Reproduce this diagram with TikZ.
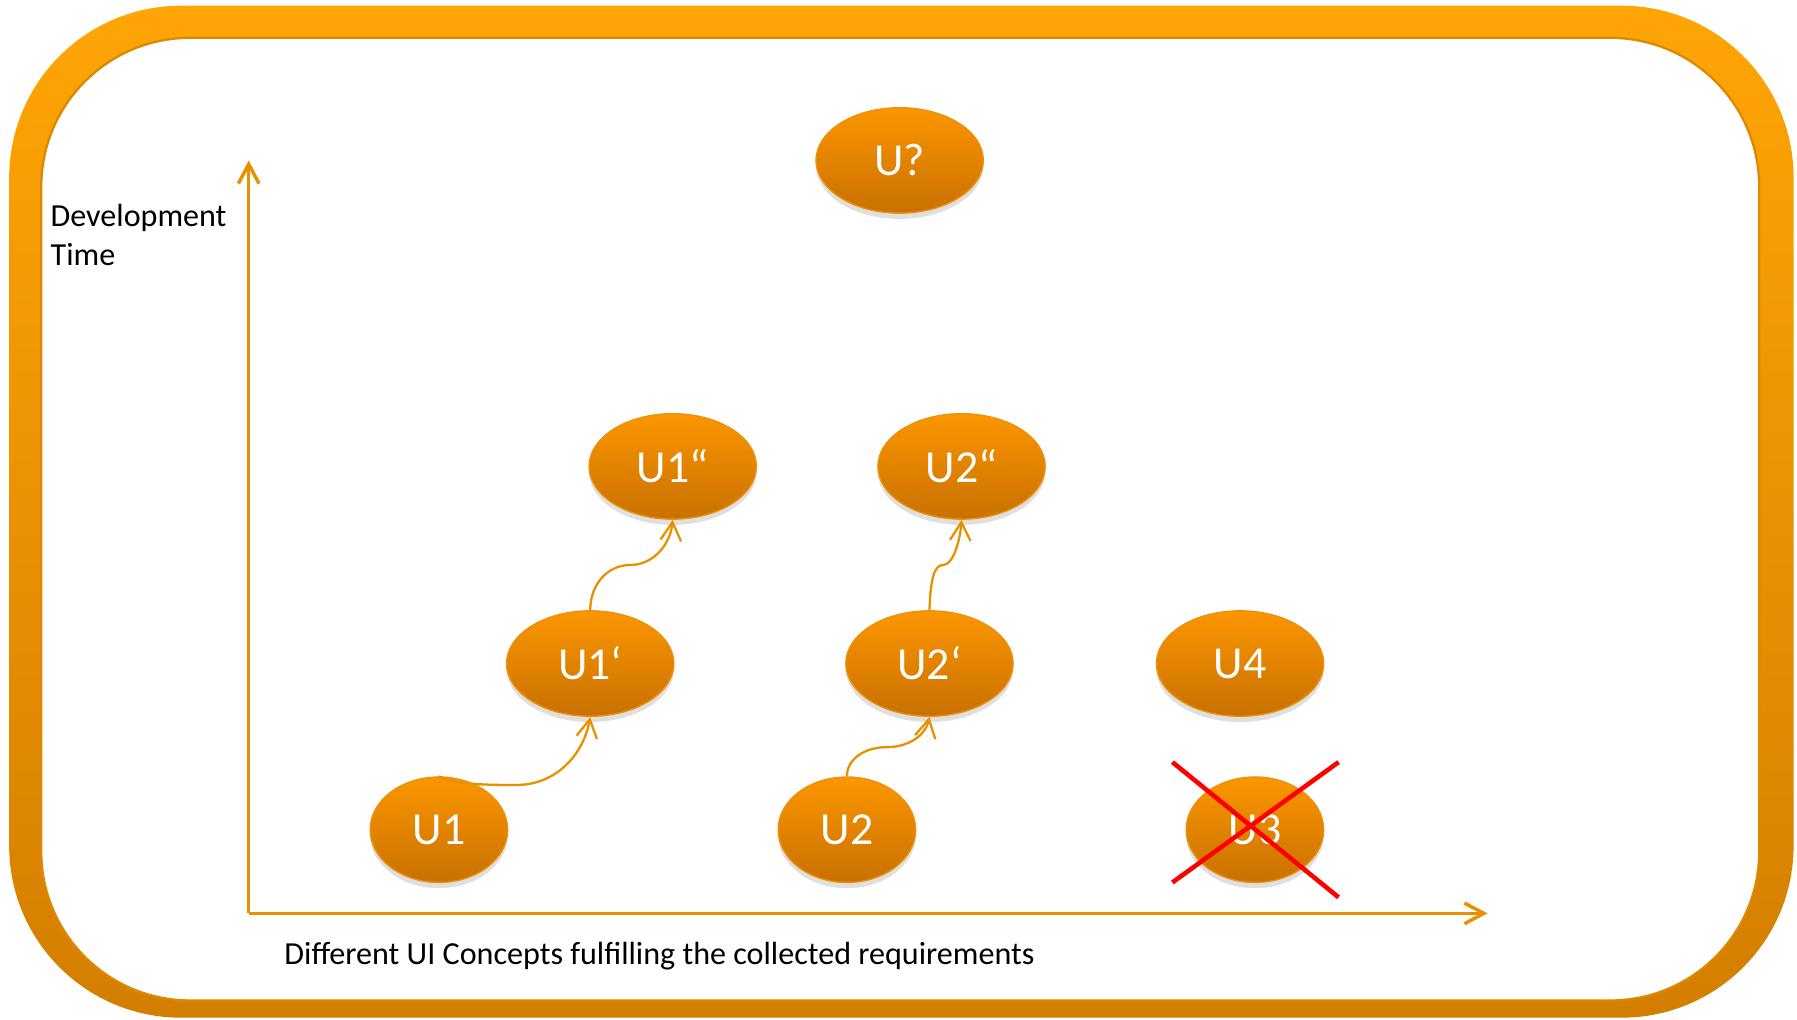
\documentclass[tikz,border=0pt]{standalone}
\usepackage{fontspec}
\setmainfont{Carlito}
\usetikzlibrary{shapes.geometric,arrows.meta,shadows}
\definecolor{frameTop}{RGB}{255,165,5}
\definecolor{frameBot}{RGB}{212,126,0}
\definecolor{frameEdge}{RGB}{222,136,0}
\definecolor{axiscol}{RGB}{232,145,0}
\definecolor{ellTop}{RGB}{252,150,0}
\definecolor{ellBot}{RGB}{200,112,0}
\definecolor{ellEdge}{RGB}{236,145,10}
\definecolor{crossred}{RGB}{255,0,0}
\begin{document}
\begin{tikzpicture}[x=1pt,y=1pt,
  concept/.style={ellipse, inner sep=0pt, minimum width=146pt, minimum height=92pt,
    top color=ellTop, bottom color=ellBot, draw=ellEdge, line width=1.2pt,
    text=white, font=\fontsize{40}{48}\selectfont,
    drop shadow={opacity=0.25, shadow xshift=0pt, shadow yshift=-5pt}},
  smallconcept/.style={concept, minimum width=120pt},
  axisline/.style={draw=axiscol, line width=3pt, -{Straight Barb[length=17pt,width=18pt]}},
  conn/.style={draw=axiscol, line width=2pt, -{Straight Barb[length=16pt,width=18pt]}},
  axislabel/.style={font=\fontsize{28}{34}\selectfont, inner sep=0pt},
  crossline/.style={draw=crossred, line width=4pt},
]
\useasboundingbox (0,0) rectangle (1568,890);
% frame
\shade[top color=frameTop, bottom color=frameBot, even odd rule]
  [rounded corners=150pt] (8,2) rectangle (1565,885)
  [rounded corners=130pt] (36,17) rectangle (1535,857);
\draw[frameEdge, line width=2pt, rounded corners=130pt] (36,17) rectangle (1535,857);

% axes
\coordinate (origin) at (217,93);
\coordinate (ytip) at (217,750);
\coordinate (xtip) at (1298,93);
\draw[axisline] (origin) -- (ytip);
\draw[axisline] (origin) -- (xtip);

\node[axislabel, anchor=base west, align=left] (ylab) at (44,658) {Development\\Time};
\node[axislabel, anchor=base west] (xlab) at (248,48) {Different UI Concepts fulfilling the collected requirements};

% concepts
\node[concept] (Uq) at (785,750) {U?};
\node[concept] (U1pp) at (587,483) {U1“};
\node[concept] (U2pp) at (839,483) {U2“};
\node[concept] (U1p) at (515,311) {U1‘};
\node[concept] (U2p) at (811,311) {U2‘};
\node[concept] (U4) at (1082,311) {U4};
\node[smallconcept] (U1) at (383,166) {U1};
\node[smallconcept] (U2) at (739,166) {U2};
\node[smallconcept] (U3) at (1095,166) {U3};

% connectors
\draw[conn] (U1.north) .. controls (395,207) and (410,205) .. (450,205)
  .. controls (488,205) and (510,235) .. (U1p.south);
\draw[conn] (U1p.north) .. controls (515,380) and (530,397) .. (550,397)
  .. controls (570,397) and (585,415) .. (U1pp.south);
\draw[conn] (U2.north) .. controls (739,228) and (755,238) .. (773,238)
  .. controls (795,238) and (808,250) .. (U2p.south);
\draw[conn] (U2p.north) .. controls (812,385) and (815,397) .. (823,397)
  .. controls (832,397) and (838,420) .. (U2pp.south);

% cross over U3
\draw[crossline] ([shift={(-72,59)}]U3.center) -- ([shift={(73,-59)}]U3.center);
\draw[crossline] ([shift={(-72,-46)}]U3.center) -- ([shift={(73,59)}]U3.center);
\end{tikzpicture}
\end{document}
